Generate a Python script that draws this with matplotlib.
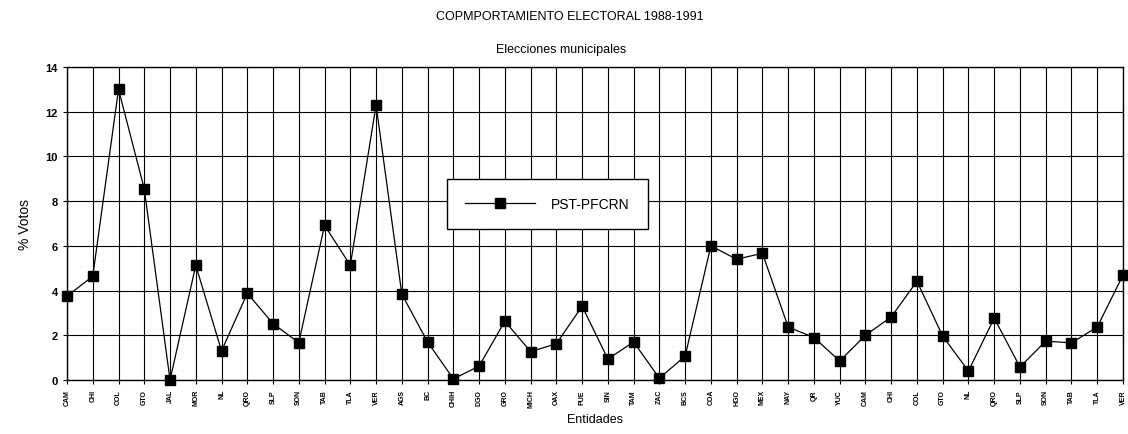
import numpy as np
import matplotlib
matplotlib.use("Agg")
import matplotlib.pyplot as plt

plt.rcParams['font.family'] = ['Liberation Sans', 'DejaVu Sans']

entidades = ["CAM", "CHI", "COL", "GTO", "JAL", "MOR", "NL", "QRO", "SLP", "SON",
             "TAB", "TLA", "VER", "AGS", "BC", "CHIH", "DGO", "GRO", "MICH", "OAX",
             "PUE", "SIN", "TAM", "ZAC", "BCS", "COA", "HGO", "MEX", "NAY", "QR",
             "YUC", "CAM", "CHI", "COL", "GTO", "NL", "QRO", "SLP", "SON", "TAB",
             "TLA", "VER"]
votos = [3.75, 4.64, 13.0, 8.55, 0.0, 5.13, 1.3, 3.88, 2.52, 1.67,
         6.92, 5.13, 12.3, 3.84, 1.7, 0.05, 0.62, 2.63, 1.27, 1.62,
         3.3, 0.94, 1.7, 0.08, 1.07, 6.0, 5.4, 5.67, 2.37, 1.9,
         0.85, 2.0, 2.82, 4.42, 1.96, 0.4, 2.77, 0.58, 1.74, 1.66,
         2.37, 4.69]

W, H = 1128, 435
fig = plt.figure(figsize=(W / 100, H / 100), dpi=100)
left, right, top, bottom = 67, 1123, 68, 381
ax = fig.add_axes([left / W, (H - bottom) / H, (right - left) / W, (bottom - top) / H])

x = np.arange(len(votos))
ax.plot(x, votos, color='black', linewidth=0.9, marker='s', markersize=7.5,
        markerfacecolor='black', markeredgecolor='black', clip_on=False,
        label='PST-PFCRN', zorder=3)

ax.set_xlim(0, len(votos) - 1)
ax.set_ylim(0, 14)
ax.set_yticks(np.arange(0, 15, 2))
ax.set_xticks(x)
ax.set_xticklabels(entidades, rotation=90, fontsize=5, fontweight='bold')
for t in ax.get_yticklabels():
    t.set_fontsize(8)
    t.set_fontweight('bold')
ax.tick_params(axis='both', length=3, width=0.8, color='black')
ax.grid(True, color='black', linewidth=0.8)
for s in ax.spines.values():
    s.set_linewidth(1.0)
    s.set_color('black')

ax.set_ylabel('% Votos', fontsize=10, labelpad=10)
ax.set_xlabel('Entidades', fontsize=9, labelpad=4)
fig.text(561 / W, 1 - 50 / H, 'Elecciones municipales', ha='center', va='center', fontsize=9)
fig.text(570 / W, 1 - 17 / H, 'COPMPORTAMIENTO ELECTORAL 1988-1991', ha='center', va='center', fontsize=9)

leg = ax.legend(loc='center', bbox_to_anchor=(0.455, 0.562), fontsize=10,
                fancybox=False, framealpha=1, edgecolor='black', borderpad=1.3,
                handlelength=5, handletextpad=1.2)
leg.get_frame().set_linewidth(1.0)

fig.savefig('out.png', dpi=100, facecolor='white')
